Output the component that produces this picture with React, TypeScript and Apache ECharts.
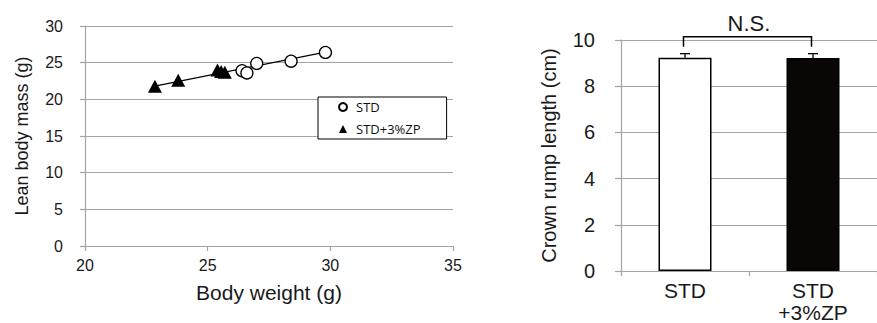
import React, { useEffect, useRef } from "react";
import * as echarts from "echarts";

// Left panel: body weight vs lean body mass
const stdBodyWeight = [26.4, 26.6, 27.0, 28.4, 29.8];
const stdLeanMass = [23.9, 23.6, 24.9, 25.2, 26.4];
const zpBodyWeight = [22.85, 23.8, 25.4, 25.55, 25.7];
const zpLeanMass = [21.8, 22.6, 24.0, 23.8, 23.7];
const fitBodyWeight = [22.85, 29.8];
const fitLeanMass = [21.8, 26.45];
const seriesNames = ["STD", "STD+3%ZP"];

// Right panel: crown rump length
const categories = ["STD", "STD\n+3%ZP"];
const crownRump = [9.23, 9.22];
const crownRumpErr = [0.18, 0.19];
const nsLabel = "N.S.";
const nsBracketLow = 9.71;
const nsBracketHigh = 10.14;
const nsTextLevel = 10.72;

const FONT = "Liberation Sans, Arial, sans-serif";
const GRID = "#a3a3a3";
const TXT = "#1a1a1a";

export default function App() {
  const ref = useRef<HTMLDivElement>(null);
  useEffect(() => {
    if (!ref.current) return;
    const chart = echarts.init(ref.current, undefined, { renderer: "svg" });
    const lineStyleGray = { color: GRID, width: 1.2 };
    chart.setOption({
      animation: false,
      backgroundColor: "#fff",
      grid: [
        { left: 85, top: 26, width: 368, height: 220 },
        { left: 621, top: 40, width: 264, height: 232 },
      ],
      legend: {
        data: seriesNames,
        left: 318,
        top: 97,
        orient: "vertical",
        selectedMode: false,
        padding: [3, 26, 3, 20],
        itemGap: 8,
        itemWidth: 8,
        itemHeight: 8,
        borderColor: "#000",
        borderWidth: 1,
        borderRadius: 0,
        backgroundColor: "#fff",
        textStyle: {
          fontFamily: "Open Sans, sans-serif",
          fontSize: 13,
          color: "#111",
          padding: [0, 0, 0, 4],
          lineHeight: 14,
        },
      },
      xAxis: [
        {
          type: "value",
          gridIndex: 0,
          min: 20,
          max: 35,
          interval: 5,
          name: "Body weight (g)",
          nameLocation: "middle",
          nameGap: 36,
          nameTextStyle: { fontFamily: FONT, fontSize: 21, color: TXT },
          axisLine: { show: true, lineStyle: lineStyleGray },
          axisTick: { show: true, length: 5, lineStyle: lineStyleGray },
          axisLabel: { fontFamily: FONT, fontSize: 16, color: TXT, margin: 11 },
          splitLine: { show: false },
        },
        {
          type: "category",
          gridIndex: 1,
          data: categories,
          boundaryGap: true,
          axisLine: { show: true, lineStyle: lineStyleGray },
          axisTick: { show: true, length: 5, lineStyle: lineStyleGray },
          axisLabel: { fontFamily: FONT, fontSize: 21, color: TXT, margin: 8, lineHeight: 22 },
        },
      ],
      yAxis: [
        {
          type: "value",
          gridIndex: 0,
          min: 0,
          max: 30,
          interval: 5,
          name: "Lean body mass (g)",
          nameLocation: "middle",
          nameGap: 54,
          nameTextStyle: { fontFamily: FONT, fontSize: 18, color: TXT },
          axisLine: { show: true, lineStyle: lineStyleGray },
          axisTick: { show: true, length: 5, lineStyle: lineStyleGray },
          axisLabel: { fontFamily: FONT, fontSize: 16, color: TXT, margin: 22 },
          splitLine: { show: true, lineStyle: lineStyleGray },
        },
        {
          type: "value",
          gridIndex: 1,
          min: 0,
          max: 10,
          interval: 2,
          name: "Crown rump length (cm)",
          nameLocation: "middle",
          nameGap: 62,
          nameTextStyle: { fontFamily: FONT, fontSize: 20, color: TXT },
          axisLine: { show: true, lineStyle: lineStyleGray },
          axisTick: { show: true, length: 6, lineStyle: lineStyleGray },
          axisLabel: { fontFamily: FONT, fontSize: 20, color: TXT, margin: 26 },
          splitLine: { show: true, lineStyle: lineStyleGray },
        },
      ],
      series: [
        {
          type: "line",
          xAxisIndex: 0,
          yAxisIndex: 0,
          data: fitBodyWeight.map((x, i) => [x, fitLeanMass[i]]),
          showSymbol: false,
          symbol: "none",
          lineStyle: { color: "#000", width: 1.3 },
          z: 1,
          silent: true,
        },
        {
          name: seriesNames[0],
          type: "scatter",
          xAxisIndex: 0,
          yAxisIndex: 0,
          data: stdBodyWeight.map((x, i) => [x, stdLeanMass[i]]),
          symbol: "circle",
          symbolSize: 12,
          itemStyle: { color: "#fff", borderColor: "#000", borderWidth: 1.3, opacity: 1 },
          z: 3,
        },
        {
          name: seriesNames[1],
          type: "scatter",
          xAxisIndex: 0,
          yAxisIndex: 0,
          data: zpBodyWeight.map((x, i) => [x, zpLeanMass[i]]),
          symbol: "triangle",
          symbolSize: [14, 13],
          itemStyle: { color: "#000", opacity: 1 },
          z: 3,
        },
        {
          type: "bar",
          xAxisIndex: 1,
          yAxisIndex: 1,
          barWidth: 53,
          data: crownRump.map((v, i) => ({
            value: v,
            itemStyle: {
              color: i === 0 ? "#fff" : "#0a0606",
              borderColor: "#000",
              borderWidth: 1.5,
            },
          })),
          z: 2,
        },
        {
          type: "custom",
          xAxisIndex: 1,
          yAxisIndex: 1,
          data: crownRump.map((v, i) => [i, v, v + crownRumpErr[i]]),
          encode: { x: 0, y: 1 },
          z: 4,
          renderItem: (params: any, api: any) => {
            const x = api.value(0);
            const p0 = api.coord([x, api.value(1)]);
            const p1 = api.coord([x, api.value(2)]);
            const st = { stroke: "#000", lineWidth: 1.3 };
            return {
              type: "group",
              children: [
                { type: "line", shape: { x1: p0[0], y1: p0[1], x2: p1[0], y2: p1[1] }, style: st },
                { type: "line", shape: { x1: p1[0] - 5, y1: p1[1], x2: p1[0] + 5, y2: p1[1] }, style: st },
              ],
            };
          },
        },
        {
          type: "custom",
          xAxisIndex: 1,
          yAxisIndex: 1,
          data: [[0, nsBracketLow]],
          encode: { x: 0, y: 1 },
          z: 4,
          renderItem: (params: any, api: any) => {
            const a = api.coord([0, nsBracketLow]);
            const b = api.coord([1, nsBracketHigh]);
            const t = api.coord([0, nsTextLevel]);
            const c = api.coord([1, nsTextLevel]);
            const xl = a[0] - 1.5;
            const xr = b[0] - 1.5;
            const st = { stroke: "#000", lineWidth: 1.5 };
            return {
              type: "group",
              children: [
                { type: "polyline", shape: { points: [[xl, a[1]], [xl, b[1]], [xr, b[1]], [xr, a[1]]] }, style: { ...st, fill: null } },
                {
                  type: "text",
                  style: {
                    text: nsLabel,
                    x: (t[0] + c[0]) / 2,
                    y: t[1],
                    align: "center",
                    verticalAlign: "middle",
                    fontFamily: FONT,
                    fontSize: 22,
                    fill: TXT,
                  },
                },
              ],
            };
          },
        },
      ],
    });
    return () => chart.dispose();
  }, []);
  return (
    <div
      ref={ref}
      style={{ position: "absolute", left: 0, top: 0, width: 877, height: 323 }}
    />
  );
}
